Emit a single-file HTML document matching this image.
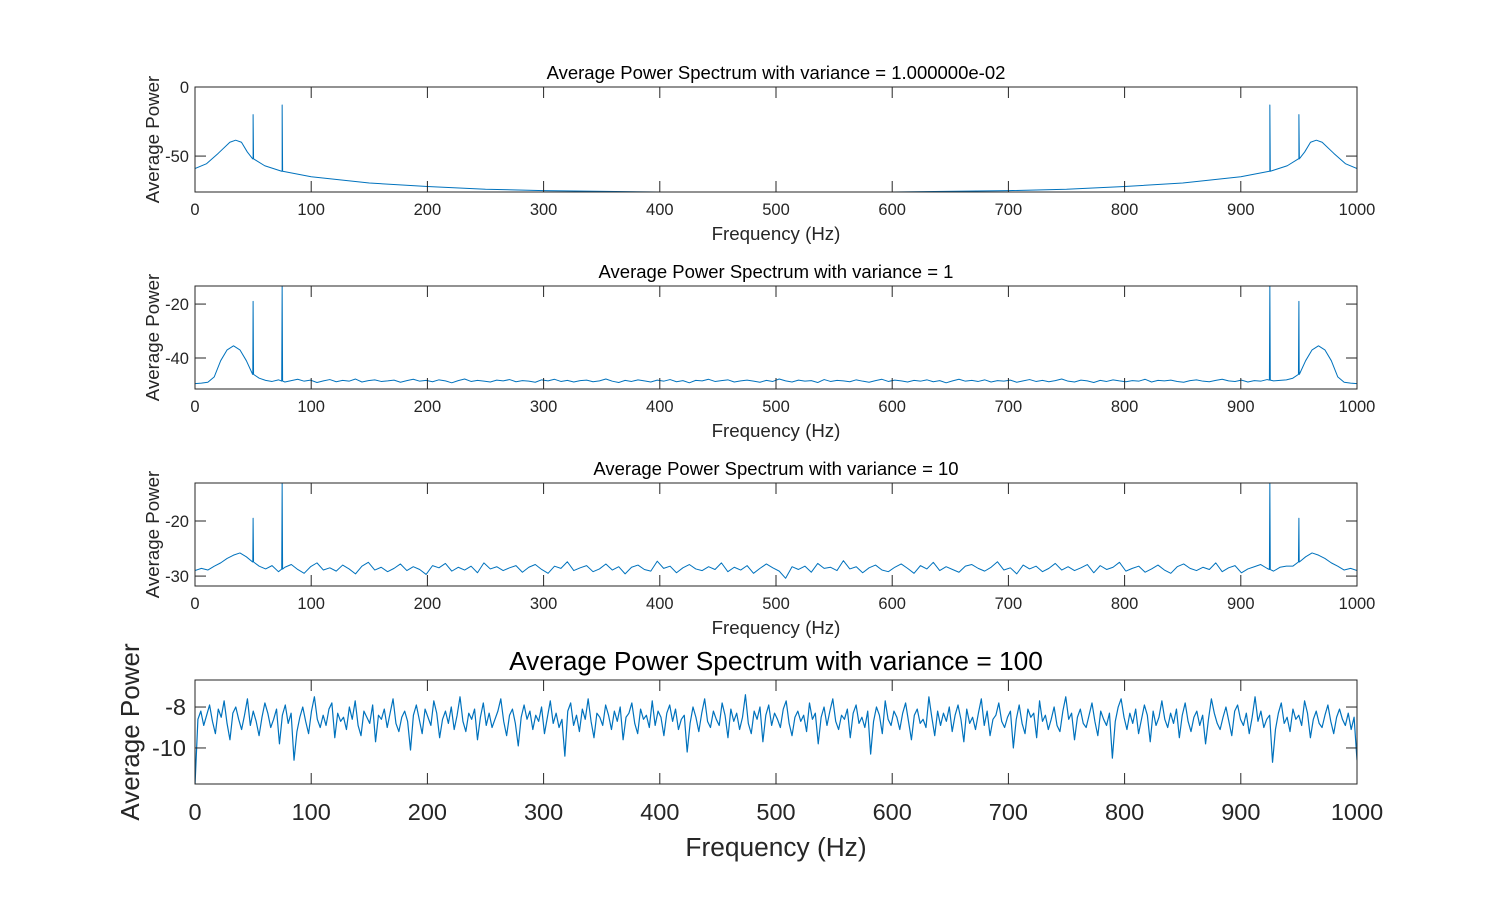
<!DOCTYPE html>
<html><head><meta charset="utf-8"><style>
body{margin:0;background:#fff;}
svg{display:block;font-family:"Liberation Sans",Arial,sans-serif;}
</style></head><body>
<svg id="fig" width="1500" height="900" viewBox="0 0 1500 900"></svg>
<script>
const xTicks=[0,100,200,300,400,500,600,700,800,900,1000];
const spikeFreqs=[50,75,925,950];
// Panel 1 (variance 0.01)
const p1Freqs=[0,10,20,30,35,40,45,50,60,75,100,150,200,250,300,400,500,600,700,750,800,850,900,925,940,950,955,960,965,970,980,990,1000];
const p1Vals=[-59,-55.5,-48,-40,-38.5,-40,-47,-52,-57,-61,-65,-69.5,-72,-74,-75,-76,-76.5,-76,-75,-74,-72,-69.5,-65,-61,-57,-52,-47,-40,-38.5,-40,-48,-55.5,-59];
const p1Spikes=[-20,-13,-13,-20];
// Panel 2 (variance 1)
const p2Vals=[-49.5,-49.3,-49,-47,-41,-37,-35.5,-37,-41,-46,-47.5,
-48.3,-48.7,-48.1,-48.9,-48.4,-47.9,-48.6,-48.2,-49.1,-48.5,-48,-48.8,-48.3,-48.6,-47.8,-48.9,-48.4,-48.1,-48.7,-48.5,
-48.2,-49,-48.4,-47.9,-48.6,-48.3,-48.8,-48.1,-48.5,-49.2,-48.4,-47.8,-48.7,-48.3,-48.6,-48.9,-48.2,-48.5,-48,-48.8,
-48.4,-48.6,-49,-48.1,-48.5,-47.9,-48.7,-48.3,-48.9,-48.4,-48.2,-48.8,-48.5,-47.8,-48.6,-49.1,-48.3,-48.7,-48.1,-48.5,
-48.9,-48.2,-48.6,-48,-48.8,-48.4,-49.2,-48.3,-48.5,-47.9,-48.7,-48.4,-48.1,-48.9,-48.5,-48.2,-48.6,-49,-48.3,-48.7,
-47.8,-48.5,-48.9,-48.2,-48.6,-48.4,-49.1,-48,-48.7,-48.3,-48.5,-48.8,-48.1,-48.6,-49,-48.4,-47.9,-48.7,-48.2,-48.5,
-48.9,-48.3,-48.6,-48.1,-48.8,-48.4,-49.2,-48.5,-47.9,-48.6,-48.3,-48.7,-48.1,-48.9,-48.4,-48.6,-48.2,-49,-48.5,-48,
-48.7,-48.3,-48.8,-48.4,-47.8,-48.6,-48.9,-48.2,-48.5,-49.1,-48.3,-48.7,-48.1,-48.5,-48.8,-48.4,-48.6,-47.9,-48.9,-48.3,
-48.5,-48.2,-48.7,-49,-48.4,-48.1,-48.6,-48.8,-48.3,-47.9,-48.5,-48.7,-48.2,-48.9,-48.4,-48.6,-48,-48.5,-48.3,-48.1,
-47.5,-46,-41,-37,-35.5,-37,-41,-47,-49,-49.3,-49.5];
const p2Spikes=[-19,-13,-13,-19];
// Panel 3 (variance 10)
const p3Vals=[-29,-28.6,-28.9,-28.2,-27.6,-26.8,-26.2,-25.8,-26.5,-27.4,-28.2,
-28.7,-28.1,-29.2,-28.4,-27.9,-28.8,-29.5,-28.3,-27.6,-28.9,-28.5,-29.1,-28,-28.7,-29.6,-28.2,-27.5,-28.9,-28.4,-29.2,
-28.6,-27.8,-29,-28.3,-28.8,-29.7,-28.1,-28.5,-27.7,-29.1,-28.4,-28.9,-28.2,-29.4,-27.6,-28.7,-28.3,-29,-28.5,-28.1,
-29.3,-28.4,-27.9,-28.8,-29.5,-28.2,-28.6,-27.4,-29,-28.5,-28.1,-29.2,-28.7,-27.8,-28.9,-28.3,-29.6,-28.4,-28,-28.8,
-29.1,-27.3,-28.6,-28.2,-29.4,-28.5,-27.9,-28.7,-29,-28.3,-28.8,-27.6,-29.2,-28.4,-28.9,-28.1,-29.5,-28.6,-27.8,-28.5,
-29.1,-30.4,-28.3,-28.8,-28.2,-29.3,-27.7,-28.6,-28.4,-29,-27.2,-28.7,-28.3,-29.4,-28.5,-28,-28.9,-29.2,-28.4,-27.8,
-28.6,-29.5,-28.1,-28.7,-27.5,-29,-28.3,-28.8,-29.3,-28.2,-27.9,-28.6,-29.1,-28.4,-27.4,-28.9,-28.5,-29.6,-28,-28.7,
-28.2,-29.2,-28.6,-27.7,-28.9,-28.3,-29,-28.5,-27.9,-29.4,-28.1,-28.8,-28.4,-27.5,-29.1,-28.6,-28.2,-29.3,-28.7,-28,
-28.9,-29.5,-28.3,-27.8,-28.6,-29,-28.4,-28.8,-27.6,-29.2,-28.5,-28.1,-29.4,-28.7,-28.3,-27.9,-28.6,-29.1,-28.4,-28.2,
-28.2,-27.4,-26.5,-25.8,-26.2,-26.8,-27.6,-28.2,-28.9,-28.6,-29];
const p3Spikes=[-19.5,-13,-13,-19.5];
// Panel 4 (variance 100)
const p4Vals=[-11.8,-8.6,-8.2,-8.9,-8.4,-7.9,-8.7,-9.3,-8.1,-8.5,-7.7,-8.8,-9.6,-8.3,-8,-8.6,-9.1,-8.4,-7.6,-8.9,
-8.2,-8.7,-9.4,-8.5,-7.8,-8.3,-9,-8.6,-8.1,-9.8,-8.4,-7.9,-8.8,-8.3,-10.6,-9.2,-8.5,-8,-8.7,-9.3,
-8.2,-7.5,-8.6,-9,-8.4,-8.9,-8.1,-7.8,-9.5,-8.3,-8.7,-8.5,-9.1,-8,-8.6,-7.7,-8.9,-9.4,-8.2,-8.5,
-8.8,-7.9,-9.7,-8.4,-8.6,-8.1,-9,-8.3,-7.6,-8.8,-9.2,-8.5,-8.2,-8.7,-10.1,-8.4,-7.9,-8.6,-9.3,-8.1,
-8.5,-8.9,-7.7,-8.3,-9.5,-8.6,-8.2,-8.8,-8,-9.1,-8.4,-7.5,-8.7,-9.2,-8.3,-8.6,-8.1,-9.6,-8.5,-7.8,
-8.9,-8.3,-9,-8.6,-8.2,-7.6,-8.7,-9.4,-8.4,-8.1,-8.8,-9.9,-8.5,-7.9,-8.6,-8.2,-9.1,-8.4,-8.7,-8,
-9.3,-8.5,-7.7,-8.8,-8.3,-9,-8.6,-10.4,-8.2,-7.8,-8.9,-8.4,-9.2,-8.1,-8.6,-7.6,-8.7,-9.5,-8.3,-8.5,
-8.9,-7.9,-8.4,-9.1,-8.2,-8.7,-8,-9.6,-8.5,-8.3,-7.8,-8.8,-9.3,-8.1,-8.6,-8.4,-9,-7.7,-8.9,-8.2,
-8.5,-9.4,-8.3,-7.9,-8.7,-8.1,-9.1,-8.6,-8.4,-10.2,-8.8,-8,-8.5,-9.2,-8.3,-7.6,-8.7,-9,-8.2,-8.6,
-8.9,-7.8,-8.4,-9.5,-8.1,-8.7,-8.3,-9.1,-8.5,-7.4,-8.8,-9.3,-8.2,-8.6,-8,-9.7,-8.4,-7.9,-8.9,-8.3,
-8.6,-9,-8.1,-7.7,-8.8,-9.4,-8.5,-8.2,-8.7,-8.4,-9.2,-7.8,-8.6,-8.3,-9.8,-8.5,-8,-8.9,-8.2,-7.6,
-8.7,-9.1,-8.4,-8.6,-8.1,-9.5,-8.3,-7.9,-8.8,-8.5,-9,-8.2,-10.3,-8.7,-8,-8.4,-9.3,-7.7,-8.6,-8.9,
-8.2,-8.5,-9.1,-8.3,-7.8,-8.7,-9.6,-8.4,-8.1,-8.8,-8.6,-9,-7.5,-8.5,-9.4,-8.2,-8.9,-8.3,-8.7,-8,
-9.2,-8.4,-7.9,-8.6,-9.7,-8.1,-8.8,-8.5,-9.1,-8.3,-7.6,-8.9,-8.2,-9.4,-8.6,-8.4,-7.8,-8.7,-9,-8.5,
-8.2,-10,-8.6,-7.9,-8.8,-9.3,-8.1,-8.5,-8.3,-9.5,-7.7,-8.7,-8.4,-9.1,-8.6,-8,-8.9,-9.2,-8.2,-7.5,
-8.6,-8.3,-9.6,-8.5,-8.1,-8.8,-9,-8.4,-7.8,-8.7,-9.4,-8.2,-8.6,-8.9,-8.3,-10.5,-8.7,-8,-7.6,-8.5,
-9.1,-8.3,-8.8,-8.1,-9.3,-8.6,-7.9,-8.4,-9.7,-8.2,-8.9,-8.5,-7.7,-8.6,-9,-8.3,-8.8,-8.1,-9.5,-8.4,
-7.8,-8.7,-9.2,-8.5,-8.2,-8.9,-8.4,-9.8,-8.6,-7.6,-8.3,-8.8,-9.1,-8.5,-8,-8.7,-9.4,-8.2,-7.9,-8.6,
-8.9,-8.3,-9.3,-8.5,-7.5,-8.7,-8.2,-9,-8.6,-8.4,-10.7,-9.1,-8.3,-7.8,-8.8,-8.5,-9.2,-8.1,-8.6,-8.4,
-8.9,-7.7,-8.3,-9.5,-8.6,-8.2,-8.8,-9,-8.4,-7.9,-8.7,-9.3,-8.5,-8.1,-8.6,-8.9,-8.3,-9.1,-8.5,-10.6];

const svg=document.getElementById('fig');
const NS='http://www.w3.org/2000/svg';
function mk(tag,attrs,parent){const e=document.createElementNS(NS,tag);for(const k in attrs)e.setAttribute(k,attrs[k]);(parent||svg).appendChild(e);return e;}
function txt(s,attrs,parent){const e=mk('text',attrs,parent);e.textContent=s;return e;}

function panel(cfg){
  const g=mk('g',{});
  
  
  const L=195,R=1357,T=cfg.top,B=cfg.bottom;
  const xs=f=>L+(f/1000)*(R-L);
  const ys=v=>T+(cfg.ymax-v)/(cfg.ymax-cfg.ymin)*(B-T);
  let pts=[];
  for(let i=0;i<cfg.vals.length;i++){pts.push([cfg.freqs?cfg.freqs[i]:i*1000/(cfg.vals.length-1),cfg.vals[i]]);}
  function interp(f){for(let i=0;i<pts.length-1;i++){if(f>=pts[i][0]&&f<=pts[i+1][0]){const t=(f-pts[i][0])/(pts[i+1][0]-pts[i][0]||1);return pts[i][1]+t*(pts[i+1][1]-pts[i][1]);}}return pts[pts.length-1][1];}
  if(cfg.spikes){
    const add=[];
    spikeFreqs.forEach((f,k)=>{const b=interp(f);add.push([f-0.4,b],[f,cfg.spikes[k]],[f+0.4,b]);});
    pts=pts.concat(add).sort((a,b)=>a[0]-b[0]);
  }
  const cp=mk('clipPath',{id:'cp'+cfg.name},g);
  mk('rect',{x:L,y:T,width:R-L,height:B-T},cp);
  const line=mk('polyline',{points:pts.map(p=>xs(p[0]).toFixed(2)+','+ys(p[1]).toFixed(2)).join(' '),fill:'none',stroke:'#0072BD','stroke-width':cfg.sw||1,'stroke-linejoin':'round','clip-path':'url(#cp'+cfg.name+')'},g);
  
  
  const box=mk('rect',{x:L,y:T,width:R-L,height:B-T,fill:'none',stroke:'#262626','stroke-width':1},g);
  
  
  const fs=cfg.big?23.5:16.5;
  xTicks.forEach(f=>{
    const x=xs(f);
    mk('line',{x1:x,y1:B,x2:x,y2:B-cfg.tl,stroke:'#262626'},g);
    mk('line',{x1:x,y1:T,x2:x,y2:T+cfg.tl,stroke:'#262626'},g);
    const t=txt(String(f),{x:x,y:B+(cfg.big?36:23),'text-anchor':'middle','font-size':fs,fill:'#262626'},g);
    
    
  });
  cfg.yTicks.forEach(v=>{
    const y=ys(v);
    mk('line',{x1:L,y1:y,x2:L+cfg.tl,y2:y,stroke:'#262626'},g);
    mk('line',{x1:R,y1:y,x2:R-cfg.tl,y2:y,stroke:'#262626'},g);
    const t=txt(String(v),{x:L-(cfg.big?9:6),y:y+fs*0.35,'text-anchor':'end','font-size':fs,fill:'#262626'},g);
    
    
  });
  const tf=cfg.big?26.3:18.5;
  const ti=txt(cfg.title,{x:776,y:T-(cfg.big?10:8),'text-anchor':'middle','font-size':tf,fill:'#000'},g);
  
  
  const xl=txt('Frequency (Hz)',{x:776,y:B+(cfg.big?72:48),'text-anchor':'middle','font-size':cfg.big?26.3:18.7,fill:'#262626'},g);
  
  
  const yx=cfg.big?139:159, yc=(T+B)/2;
  const yl=txt('Average Power',{x:yx,y:yc,'text-anchor':'middle','font-size':cfg.big?26:18.7,fill:'#262626',transform:'rotate(-90 '+yx+' '+yc+')'},g);
  
  
}
panel({name:'panel-variance-0.01',top:87,bottom:192,ymin:-76,ymax:0,yTicks:[0,-50],freqs:p1Freqs,vals:p1Vals,spikes:p1Spikes,title:'Average Power Spectrum with variance = 1.000000e-02',tl:11});
panel({name:'panel-variance-1',top:286,bottom:389,ymin:-51.5,ymax:-13.3,yTicks:[-20,-40],vals:p2Vals,spikes:p2Spikes,title:'Average Power Spectrum with variance = 1',tl:11});
panel({name:'panel-variance-10',top:483,bottom:586,ymin:-31.8,ymax:-13.1,yTicks:[-20,-30],vals:p3Vals,spikes:p3Spikes,title:'Average Power Spectrum with variance = 10',tl:11});
panel({name:'panel-variance-100',top:680,bottom:784,ymin:-11.76,ymax:-6.68,yTicks:[-8,-10],vals:p4Vals,title:'Average Power Spectrum with variance = 100',tl:11,big:true,sw:1.2});
</script>
</body></html>
